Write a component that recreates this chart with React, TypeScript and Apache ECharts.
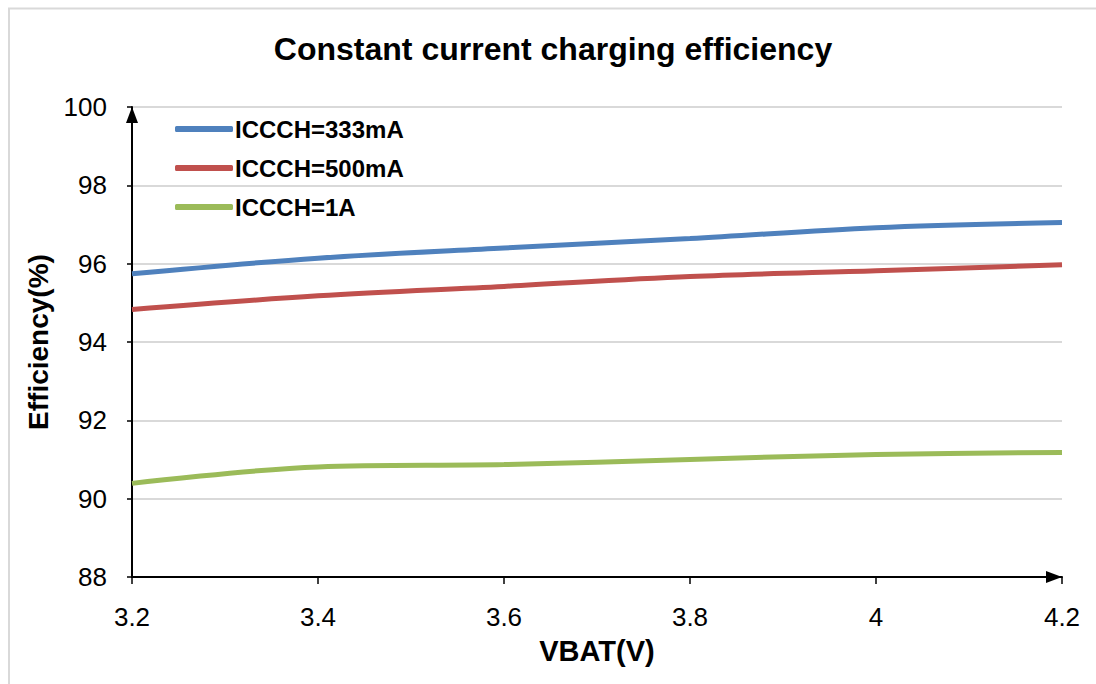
import React, { useEffect, useRef } from "react";
import * as echarts from "echarts";

const vbat = [3.2, 3.4, 3.6, 3.8, 4.0, 4.2];
const seriesNames = ["ICCCH=333mA", "ICCCH=500mA", "ICCCH=1A"];
const eff333 = [95.74, 96.14, 96.4, 96.64, 96.92, 97.05];
const eff500 = [94.83, 95.18, 95.42, 95.67, 95.82, 95.97];
const eff1A = [90.39, 90.81, 90.87, 91.0, 91.13, 91.18];
const colors = ["#4F81BD", "#C0504D", "#9BBB59"];

export default function App() {
  const ref = useRef<HTMLDivElement>(null);
  useEffect(() => {
    if (!ref.current) return;
    const chart = echarts.init(ref.current, null, { renderer: "svg" });
    const all = [eff333, eff500, eff1A];
    const font = "'Liberation Sans', Arial, sans-serif";
    chart.setOption({
      animation: false,
      backgroundColor: "#ffffff",
      textStyle: { fontFamily: font },
      title: {
        text: "Constant current charging efficiency",
        left: 548,
        textAlign: "center",
        top: 28,
        textStyle: { fontSize: 32, fontWeight: "bold", color: "#000", fontFamily: font },
      },
      graphic: [
        {
          type: "rect",
          shape: { x: 9, y: 8.5, width: 1100, height: 700 },
          style: { fill: "none", stroke: "#d9d9d9", lineWidth: 2 },
          silent: true,
          z: -1,
        },
      ],
      legend: {
        orient: "vertical",
        left: 170,
        top: 112,
        itemWidth: 58,
        itemHeight: 6,
        itemGap: 15,
        icon: "roundRect",
        data: seriesNames,
        textStyle: { fontSize: 24, fontWeight: "bold", color: "#000", fontFamily: font, padding: [0, 0, 0, -3] },
      },
      grid: { left: 132, right: 34, top: 107, bottom: 107, containLabel: false },
      xAxis: {
        type: "value",
        min: 3.2,
        max: 4.2,
        interval: 0.2,
        name: "VBAT(V)",
        nameLocation: "middle",
        nameGap: 59,
        nameTextStyle: { fontSize: 29, fontWeight: "bold", color: "#000", fontFamily: font },
        axisLine: {
          show: true,
          lineStyle: { color: "#000", width: 2 },
          symbol: ["none", "triangle"],
          symbolSize: [12, 16],
          symbolOffset: [0, -8],
        },
        axisTick: { show: true, length: 7, lineStyle: { color: "#000", width: 1.5 } },
        axisLabel: {
          fontSize: 26,
          color: "#000",
          margin: 27,
          fontFamily: font,
          formatter: (v: number) => String(+v.toFixed(1)),
        },
        splitLine: { show: false },
      },
      yAxis: {
        type: "value",
        min: 88,
        max: 100,
        interval: 2,
        name: "Efficiency(%)",
        nameLocation: "middle",
        nameGap: 78,
        nameRotate: 90,
        nameTextStyle: { fontSize: 28, fontWeight: "bold", color: "#000", fontFamily: font },
        axisLine: {
          show: true,
          lineStyle: { color: "#000", width: 2 },
          symbol: ["none", "triangle"],
          symbolSize: [12, 16],
          symbolOffset: [0, -8],
        },
        axisTick: { show: true, length: 5, lineStyle: { color: "#000", width: 1.5 } },
        axisLabel: { fontSize: 26, color: "#000", margin: 25, fontFamily: font },
        splitLine: { show: true, lineStyle: { color: "#d9d9d9", width: 2 } },
      },
      series: seriesNames.map((name, i) => ({
        name,
        type: "line",
        smooth: 0.35,
        symbol: "none",
        data: vbat.map((x, j) => [x, all[i][j]]),
        lineStyle: { color: colors[i], width: 5 },
        itemStyle: { color: colors[i] },
      })),
    });
    return () => chart.dispose();
  }, []);
  return (
    <div
      ref={ref}
      style={{ position: "absolute", left: 0, top: 0, width: 1096, height: 684 }}
    />
  );
}
